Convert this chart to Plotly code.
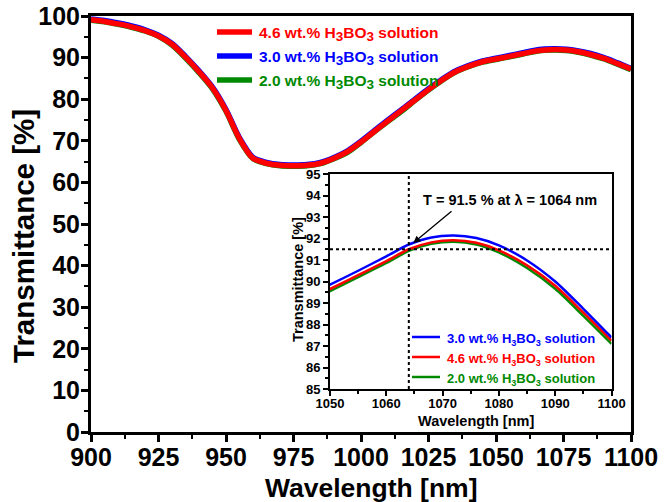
import plotly.graph_objects as go

# Transmission spectra of H3BO3 solutions
wavelength = [900, 905, 910, 915, 920, 925, 930, 935, 940, 945, 950, 955, 960, 965,
              970, 975, 980, 985, 990, 995, 1000, 1005, 1010, 1015, 1020, 1025, 1030,
              1035, 1040, 1045, 1050, 1055, 1060, 1064, 1068, 1072, 1076, 1080, 1085,
              1090, 1095, 1100]

t_46 = [99.1, 98.7, 98.1, 97.4, 96.5, 95.2, 93.2, 90.1, 86.6, 82.7, 77.3, 70.5, 65.8,
        64.6, 64.1, 64.0, 64.1, 64.6, 65.8, 67.4, 69.7, 72.3, 74.8, 77.3, 79.8, 82.3,
        84.6, 86.6, 87.95, 89.0, 89.65, 90.3, 90.95, 91.5, 91.82, 91.92, 91.8, 91.45,
        90.75, 89.8, 88.55, 87.25]

t_30 = [99.3, 98.9, 98.3, 97.6, 96.7, 95.4, 93.4, 90.3, 86.8, 82.9, 77.5, 70.7, 66.0,
        64.8, 64.3, 64.2, 64.3, 64.8, 66.0, 67.6, 69.9, 72.5, 75.0, 77.5, 80.0, 82.5,
        84.8, 86.8, 88.15, 89.2, 89.85, 90.5, 91.17, 91.72, 92.05, 92.14, 92.02, 91.68,
        90.98, 90.0, 88.73, 87.4]

t_20 = [99.0, 98.6, 98.0, 97.3, 96.4, 95.1, 93.0, 89.9, 86.4, 82.5, 77.1, 70.3, 65.7,
        64.5, 64.0, 63.9, 64.0, 64.5, 65.7, 67.2, 69.6, 72.2, 74.7, 77.1, 79.7, 82.2,
        84.5, 86.5, 87.85, 88.9, 89.55, 90.2, 90.86, 91.42, 91.75, 91.85, 91.72, 91.35,
        90.63, 89.66, 88.4, 87.1]

colors = {"4.6": "#ff0000", "3.0": "#0000ff", "2.0": "#008a00"}
series = {"4.6": t_46, "3.0": t_30, "2.0": t_20}

marked_wl = 1064
marked_t = 91.5

FONT = "Liberation Sans"
W, H = 669, 502
ML, MR, MT, MB = 91, 38, 16, 70
PW, PH = W - ML - MR, H - MT - MB


def px(x):
    return (x - ML) / PW


def py(y):
    return (MT + PH - y) / PH


def label(conc, sub_size=None):
    if sub_size is None:
        s = "<sub>3</sub>"
    else:
        s = f'<sub><span style="font-size:{sub_size}px">3</span></sub>'
    return f"{conc} wt.% H{s}BO{s} solution"


fig = go.Figure()

# main panel: red drawn last so it sits on top
for key in ["2.0", "3.0", "4.6"]:
    fig.add_trace(go.Scatter(
        x=wavelength, y=series[key], mode="lines",
        line=dict(color=colors[key], width=5.5, shape="spline", smoothing=0.8),
        xaxis="x", yaxis="y", showlegend=False, hoverinfo="skip"))

# inset panel: blue on top
for key in ["2.0", "4.6", "3.0"]:
    fig.add_trace(go.Scatter(
        x=wavelength, y=series[key], mode="lines",
        line=dict(color=colors[key], width=2.5, shape="spline", smoothing=0.8),
        xaxis="x2", yaxis="y2", showlegend=False, hoverinfo="skip"))

bold = dict(family=FONT, color="black", weight="bold")

fig.update_layout(
    width=W, height=H,
    margin=dict(l=ML, r=MR, t=MT, b=MB, pad=0, autoexpand=False),
    paper_bgcolor="white", plot_bgcolor="white",
    font=dict(family=FONT, color="black"),
    xaxis=dict(
        domain=[0, 1], range=[900, 1100], tick0=900, dtick=25, automargin=False,
        showline=True, linewidth=3, linecolor="black", mirror=True,
        ticks="outside", ticklen=7, tickwidth=3, tickcolor="black",
        minor=dict(dtick=12.5, ticks="outside", ticklen=4, tickwidth=2, tickcolor="black"),
        showgrid=False, zeroline=False, ticklabelstandoff=-6,
        tickfont=dict(size=25, **bold),
    ),
    yaxis=dict(
        domain=[0, 1], range=[0, 100], tick0=0, dtick=10, automargin=False,
        showline=True, linewidth=3, linecolor="black", mirror=True,
        ticks="outside", ticklen=7, tickwidth=3, tickcolor="black",
        minor=dict(dtick=5, ticks="outside", ticklen=4, tickwidth=2, tickcolor="black"),
        showgrid=False, zeroline=False, ticklabelstandoff=-4,
        tickfont=dict(size=25, **bold),
    ),
    xaxis2=dict(
        domain=[px(330), px(611.5)], anchor="y2", range=[1050, 1100], tick0=1050, dtick=10,
        automargin=False,
        showline=True, linewidth=2, linecolor="black", mirror=True,
        ticks="outside", ticklen=5, tickwidth=1.5, tickcolor="black",
        minor=dict(dtick=5, ticks="outside", ticklen=3, tickwidth=1.5, tickcolor="black"),
        showgrid=False, zeroline=False, ticklabelstandoff=-4,
        tickfont=dict(size=13, **bold),
    ),
    yaxis2=dict(
        domain=[py(389), py(174)], anchor="x2", range=[85, 95], tick0=85, dtick=1,
        automargin=False,
        showline=True, linewidth=2, linecolor="black", mirror=True,
        ticks="outside", ticklen=5, tickwidth=1.5, tickcolor="black",
        minor=dict(dtick=0.5, ticks="outside", ticklen=3, tickwidth=1.5, tickcolor="black"),
        showgrid=False, zeroline=False,
        tickfont=dict(size=13, **bold),
    ),
)

shapes = []
annotations = []

# axis titles
annotations.append(dict(xref="paper", yref="paper", x=px(371), y=py(488),
                        text="Wavelength [nm]", showarrow=False,
                        xanchor="center", yanchor="middle", font=dict(size=26.5, **bold)))
annotations.append(dict(xref="paper", yref="paper", x=px(23), y=py(236),
                        text="Transmittance [%]", showarrow=False, textangle=-90,
                        xanchor="center", yanchor="middle", font=dict(size=29.5, **bold)))
annotations.append(dict(xref="paper", yref="paper", x=px(476), y=py(421),
                        text="Wavelength [nm]", showarrow=False,
                        xanchor="center", yanchor="middle", font=dict(size=14.5, **bold)))
annotations.append(dict(xref="paper", yref="paper", x=px(298), y=py(280),
                        text="Transmittance [%]", showarrow=False, textangle=-90,
                        xanchor="center", yanchor="middle", font=dict(size=14.5, **bold)))

# dotted guides marking 91.5 % at 1064 nm in the inset
shapes.append(dict(type="line", xref="x2", yref="y2", x0=marked_wl, x1=marked_wl,
                   y0=85, y1=95, line=dict(color="black", width=2, dash="dot")))
shapes.append(dict(type="line", xref="x2", yref="y2", x0=1050, x1=1100,
                   y0=marked_t, y1=marked_t, line=dict(color="black", width=2, dash="dot")))

annotations.append(dict(
    xref="paper", yref="paper", x=px(510), y=py(200),
    text=f"T = {marked_t} % at λ = {marked_wl} nm", showarrow=False,
    font=dict(size=14.5, **bold), xanchor="center", yanchor="middle"))
annotations.append(dict(
    xref="x2", yref="y2", x=1064.8, y=91.79, text="", showarrow=True,
    ax=39.7, ay=-33, axref="pixel", ayref="pixel",
    arrowhead=2, arrowsize=1.1, arrowwidth=1.3, arrowcolor="black", standoff=0))

# main legend
for i, key in enumerate(["4.6", "3.0", "2.0"]):
    yy = 32 + 24 * i
    shapes.append(dict(type="line", xref="paper", yref="paper",
                       x0=px(217), x1=px(252), y0=py(yy), y1=py(yy),
                       line=dict(color=colors[key], width=5.5)))
    annotations.append(dict(
        xref="paper", yref="paper", x=px(257), y=py(yy + 2), text=label(key, 13.5),
        showarrow=False, xanchor="left", yanchor="middle",
        font=dict(size=15.5, family=FONT, color=colors[key], weight="bold")))

# inset legend
for i, key in enumerate(["3.0", "4.6", "2.0"]):
    yy = 337 + 20 * i
    shapes.append(dict(type="line", xref="paper", yref="paper",
                       x0=px(412), x1=px(440), y0=py(yy), y1=py(yy),
                       line=dict(color=colors[key], width=2.5)))
    annotations.append(dict(
        xref="paper", yref="paper", x=px(445), y=py(yy + 2), text=label(key),
        showarrow=False, xanchor="left", yanchor="middle",
        font=dict(size=13, family=FONT, color=colors[key], weight="bold")))

fig.update_layout(shapes=shapes, annotations=annotations)

fig.write_html("out.html")
